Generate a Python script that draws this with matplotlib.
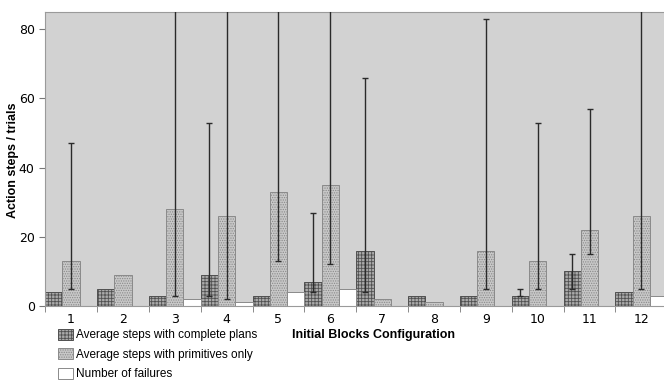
import numpy as np
import matplotlib.pyplot as plt
from matplotlib.patches import Patch

configs = [1, 2, 3, 4, 5, 6, 7, 8, 9, 10, 11, 12]
complete = [4, 5, 3, 9, 3, 7, 16, 3, 3, 3, 10, 4]
primitives = [13, 9, 28, 26, 33, 35, 2, 1, 16, 13, 22, 26]
failures = [0, 0, 2, 1, 4, 5, 0, 0, 0, 0, 0, 3]

# error ranges (low, high); None = no error bar
complete_err = [None, None, None, (3, 53), None, (4, 27), (4, 66), None, None, (3, 5), (5, 15), None]
primitives_err = [(5, 47), None, (3, 120), (2, 120), (13, 120), (12, 120), None, None,
                  (5, 83), (5, 53), (15, 57), (5, 120)]

plt.rcParams['font.family'] = ['Liberation Sans', 'DejaVu Sans']
plt.rcParams['hatch.linewidth'] = 0.6

fig = plt.figure(figsize=(6.64, 3.81), dpi=100)
ax = fig.add_axes([0.068, 0.197, 0.937, 0.772])
ax.set_facecolor('#d2d2d2')

x = np.array(configs)
w = 1 / 3
ax.bar(x - w, complete, w, color='#aaaaaa', edgecolor='#505050', hatch='+++++', linewidth=0.7, zorder=2)
ax.bar(x, primitives, w, color='#c8c8c8', edgecolor='#8a8a8a', hatch='.......', linewidth=0.7, zorder=2)
ax.bar(x + w, failures, w, color='white', edgecolor='#8a8a8a', linewidth=0.7, zorder=2)

def draw_err(xs, vals, errs):
    for xi, v, e in zip(xs, vals, errs):
        if e is None:
            continue
        lo, hi = e
        ax.errorbar(xi, v, yerr=[[v - lo], [hi - v]], fmt='none', ecolor='#2a2a2a',
                    elinewidth=1.0, capsize=2.5, capthick=1.0, zorder=3)

draw_err(x - w, complete, complete_err)
draw_err(x, primitives, primitives_err)

ax.set_xlim(0.5, 12.5)
ax.set_ylim(0, 85)
ax.set_yticks([0, 20, 40, 60, 80])
ax.set_xticks(x)
ax.set_xticklabels([str(c) for c in configs], family='DejaVu Sans', fontsize=9)
ax.set_xticks(np.arange(0.5, 12.5, 1), minor=True)
ax.tick_params(axis='x', which='major', length=0, pad=5)
ax.tick_params(axis='x', which='minor', length=4, color='#777777')
ax.tick_params(axis='y', labelsize=9, length=4, color='#777777')
for lab in ax.get_yticklabels():
    lab.set_family('DejaVu Sans')
for s in ax.spines.values():
    s.set_color('#9a9a9a')
    s.set_linewidth(0.8)

fig.text(0.019, 0.58, 'Action steps / trials', rotation=90, ha='center', va='center',
         fontsize=9, fontweight='bold')
fig.text(0.5625, 0.121, 'Initial Blocks Configuration', ha='center', va='center',
         fontsize=9, fontweight='bold')

handles = [Patch(facecolor='#aaaaaa', edgecolor='#505050', hatch='+++++', linewidth=0.7),
           Patch(facecolor='#c8c8c8', edgecolor='#8a8a8a', hatch='.......', linewidth=0.7),
           Patch(facecolor='white', edgecolor='#8a8a8a', linewidth=0.7)]
labels = ['Average steps with complete plans', 'Average steps with primitives only',
          'Number of failures']
fig.legend(handles, labels, loc='upper left', bbox_to_anchor=(0.087, 0.137), frameon=False,
           fontsize=8.5, handlelength=1.3, handleheight=1.05, handletextpad=0.25,
           labelspacing=0.6, borderaxespad=0, borderpad=0)

fig.savefig('out.png', dpi=100)
